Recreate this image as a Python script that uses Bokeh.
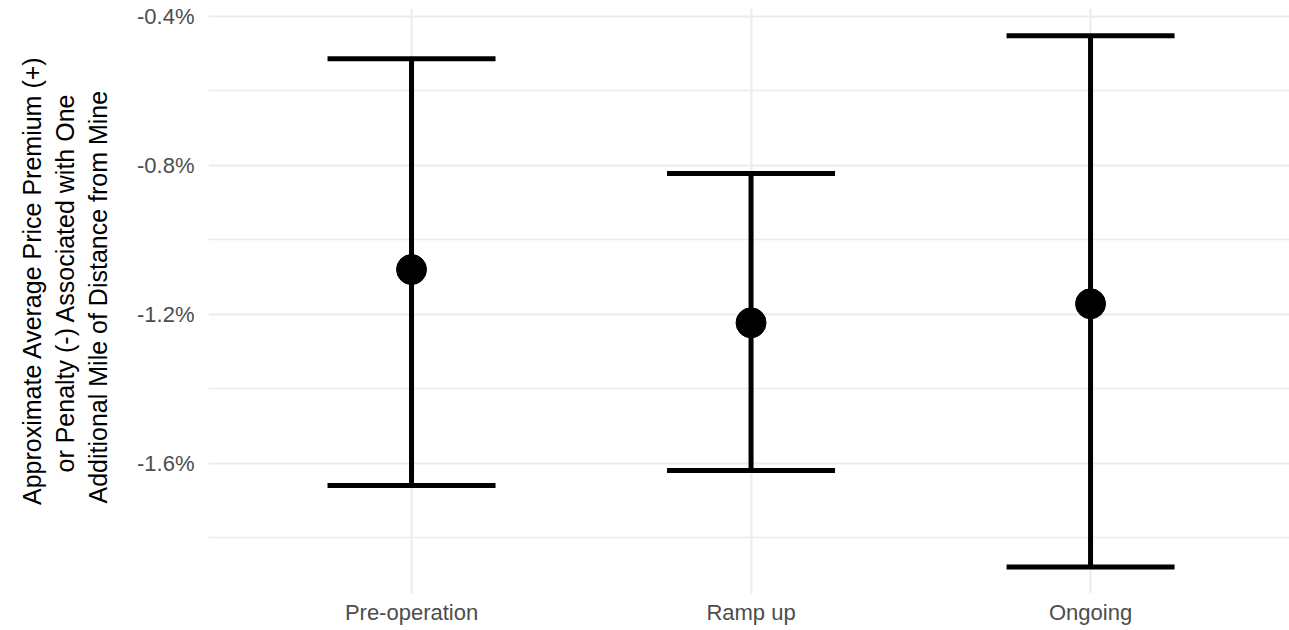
from bokeh.plotting import figure
from bokeh.models import (ColumnDataSource, Range1d, FixedTicker, PrintfTickFormatter,
                          Whisker, TeeHead, Title, LinearAxis, CustomJSTickFormatter)
from bokeh.embed import file_html
from bokeh.resources import INLINE

# ---- data (percent) ----
categories = ["Pre-operation", "Ramp up", "Ongoing"]
estimate = [-1.080, -1.223, -1.172]
upper = [-0.514, -0.822, -0.452]
lower = [-1.660, -1.620, -1.879]
y_major_ticks = [-1.6, -1.2, -0.8, -0.4]
y_minor_ticks = [-1.8, -1.4, -1.0, -0.6]
title_lines = ["Approximate Average Price Premium (+)",
               "or Penalty (-) Associated with One",
               "Additional Mile of Distance from Mine"]

xpos = list(range(1, len(categories) + 1))
src = ColumnDataSource(dict(x=xpos, est=estimate, up=upper, lo=lower))

FONT = "Liberation Sans"
TICK_COL = "#4d4d4d"
GRID_COL = "#ebebeb"

p = figure(frame_width=1081, frame_height=585, output_backend="svg", toolbar_location=None,
           x_range=Range1d(0.402, 3.586), y_range=Range1d(-1.950, -0.379),
           min_border_left=208, min_border_right=0, min_border_top=8, min_border_bottom=37)
p.outline_line_color = None
p.background_fill_color = "white"
p.border_fill_color = "white"

# grid
p.xgrid.ticker = FixedTicker(ticks=xpos)
p.xgrid.grid_line_color = GRID_COL
p.xgrid.grid_line_width = 2
p.ygrid.ticker = FixedTicker(ticks=y_major_ticks, minor_ticks=y_minor_ticks)
p.ygrid.grid_line_color = GRID_COL
p.ygrid.grid_line_width = 2
p.ygrid.minor_grid_line_color = GRID_COL
p.ygrid.minor_grid_line_width = 1.6

# axes
for ax in (p.xaxis[0], p.yaxis[0]):
    ax.axis_line_color = None
    ax.major_tick_line_color = None
    ax.minor_tick_line_color = None
    ax.major_tick_out = 0
    ax.major_tick_in = 0
    ax.minor_tick_out = 0
    ax.major_label_text_font = FONT
    ax.major_label_text_font_size = "22px"
    ax.major_label_text_color = TICK_COL

p.xaxis.ticker = FixedTicker(ticks=xpos)
p.xaxis.major_label_overrides = {x: c for x, c in zip(xpos, categories)}
p.xaxis.major_label_standoff = 6

p.yaxis.ticker = FixedTicker(ticks=y_major_ticks)
p.yaxis.formatter = PrintfTickFormatter(format="%.1f%%")
p.yaxis.major_label_standoff = 14

# blank spacer axis (one invisible white tick, no label): gap between tick labels and title
spacer = LinearAxis(ticker=FixedTicker(ticks=[y_major_ticks[1]]), axis_line_color=None,
                    major_tick_line_color="white", major_tick_line_width=1,
                    minor_tick_line_color=None,
                    major_tick_out=23, major_tick_in=0, minor_tick_out=0,
                    major_label_standoff=0,
                    formatter=CustomJSTickFormatter(code="return ''"))
p.add_layout(spacer, "left")

# error bars
w = Whisker(base="x", upper="up", lower="lo", source=src,
            line_color="black", line_width=5,
            upper_head=TeeHead(size=168, line_width=5, line_color="black"),
            lower_head=TeeHead(size=168, line_width=5, line_color="black"))
p.add_layout(w)

p.scatter("x", "est", source=src, size=30, color="black")

# multi-line y-axis title (innermost line first); offsets centre each line on the same point
line_lengths = [445, 380, 442]      # approx rendered length of each line, px
standoffs = [0, 6, 0]               # outermost ... innermost
centre_from_bottom = 311
for line, ln, so in reversed(list(zip(title_lines, line_lengths, standoffs))):
    t = Title(text=line, align="left", text_font=FONT, text_font_size="25px",
              text_font_style="normal", text_color="black",
              offset=centre_from_bottom - ln / 2, standoff=so)
    p.add_layout(t, "left")

open("out.html", "w").write(file_html(p, INLINE))
